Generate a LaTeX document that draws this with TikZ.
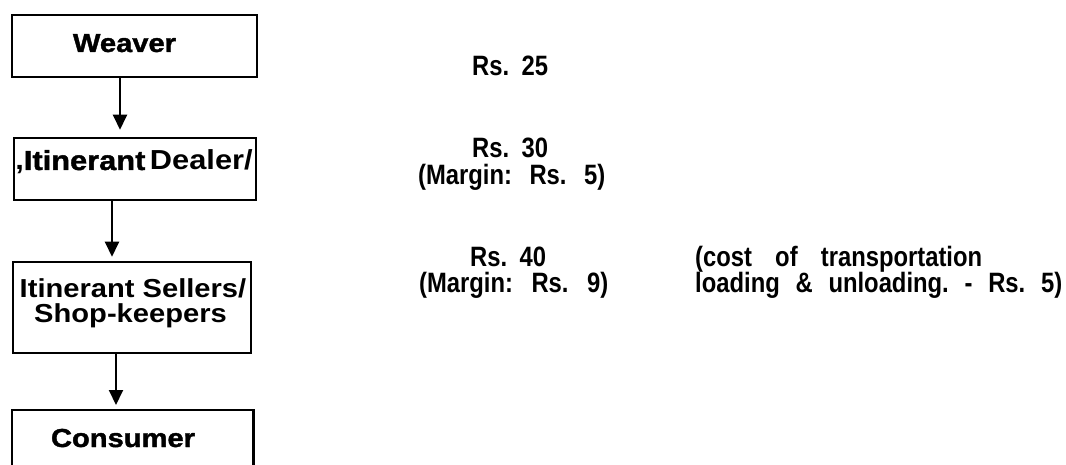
\documentclass[tikz,border=0pt]{standalone}
\usepackage{fontspec}
\setmainfont{Liberation Sans}
\newfontfamily\boxfont[FakeStretch=1.12]{Liberation Sans}
\newfontfamily\heavyfont[FakeStretch=1.12,BoldFeatures={FakeBold=1.5}]{Liberation Sans}
\newfontfamily\narrowfont[FakeStretch=0.85]{Liberation Sans}
\usetikzlibrary{arrows.meta}
\tikzset{
  bx/.style={draw, line width=2.5pt, inner sep=0pt},
  lbl/.style={inner sep=0pt, anchor=base, font=\boxfont\bfseries\fontsize{26}{30}\selectfont},
  rt/.style={inner sep=0pt, anchor=base west, font=\narrowfont\bfseries\fontsize{28}{32}\selectfont},
  arr/.style={line width=2pt, -{Triangle[width=14pt,length=15pt]}}
}
\begin{document}
\begin{tikzpicture}[x=1pt,y={(0pt,-1pt)}]
\useasboundingbox (0,0) rectangle (1066,465);
% boxes
\node[bx, minimum width=245pt, minimum height=62pt] (weaver) at (134.5,46) {};
\node[bx, minimum width=242pt, minimum height=62pt] (dealer) at (135,169) {};
\node[bx, minimum width=238pt, minimum height=91pt] (sellers) at (132,307.5) {};
\node[inner sep=0pt, minimum width=241pt, minimum height=56pt, anchor=north west] (consumer) at (12,410) {};
\draw[line width=2.5pt] (consumer.south west) -- (consumer.north west) -- (consumer.north east) -- (consumer.south east);
% box labels
\node[lbl] (tweaver) at (124.5,52) {\heavyfont\bfseries Weaver};
\node[lbl, font=\boxfont\bfseries\fontsize{27.5}{30}\selectfont] (tdealer) at (134,170) {,{\heavyfont\bfseries Itinerant}\,Dealer/};
\node[lbl] (tsell1) at (133,298) {Itinerant Sellers/};
\node[lbl] (tsell2) at (130.5,323) {Shop-keepers};
\node[lbl] (tcons) at (123,447) {\heavyfont\bfseries Consumer};
% arrows
\draw[arr, shorten >=7pt] ([xshift=-14.5pt]weaver.south) -- ([xshift=-14.5pt]weaver.south |- dealer.north);
\draw[arr, shorten >=4pt] ([xshift=-23pt]dealer.south) -- ([xshift=-23pt]dealer.south |- sellers.north);
\draw[arr, shorten >=5pt] ([xshift=-16pt]sellers.south) -- ([xshift=-16pt]sellers.south |- consumer.north);
% right texts
\node[rt] (p1) at (472,76) {\makebox[76pt][s]{Rs.\ 25}};
\node[rt] (p2) at (472,158) {\makebox[76pt][s]{Rs.\ 30}};
\node[rt] (m2) at (418,185) {\makebox[187pt][s]{(Margin:\ Rs.\ 5)}};
\node[rt] (p3) at (470,267) {\makebox[76pt][s]{Rs.\ 40}};
\node[rt] (m3) at (419,293) {\makebox[189pt][s]{(Margin:\ Rs.\ 9)}};
\node[rt] (c1) at (695,267) {\makebox[287pt][s]{(cost\ of\ transportation}};
\node[rt] (c2) at (695,293) {\makebox[367pt][s]{loading\ \&\ unloading.\ -\ Rs.\ 5)}};
\end{tikzpicture}
\end{document}
